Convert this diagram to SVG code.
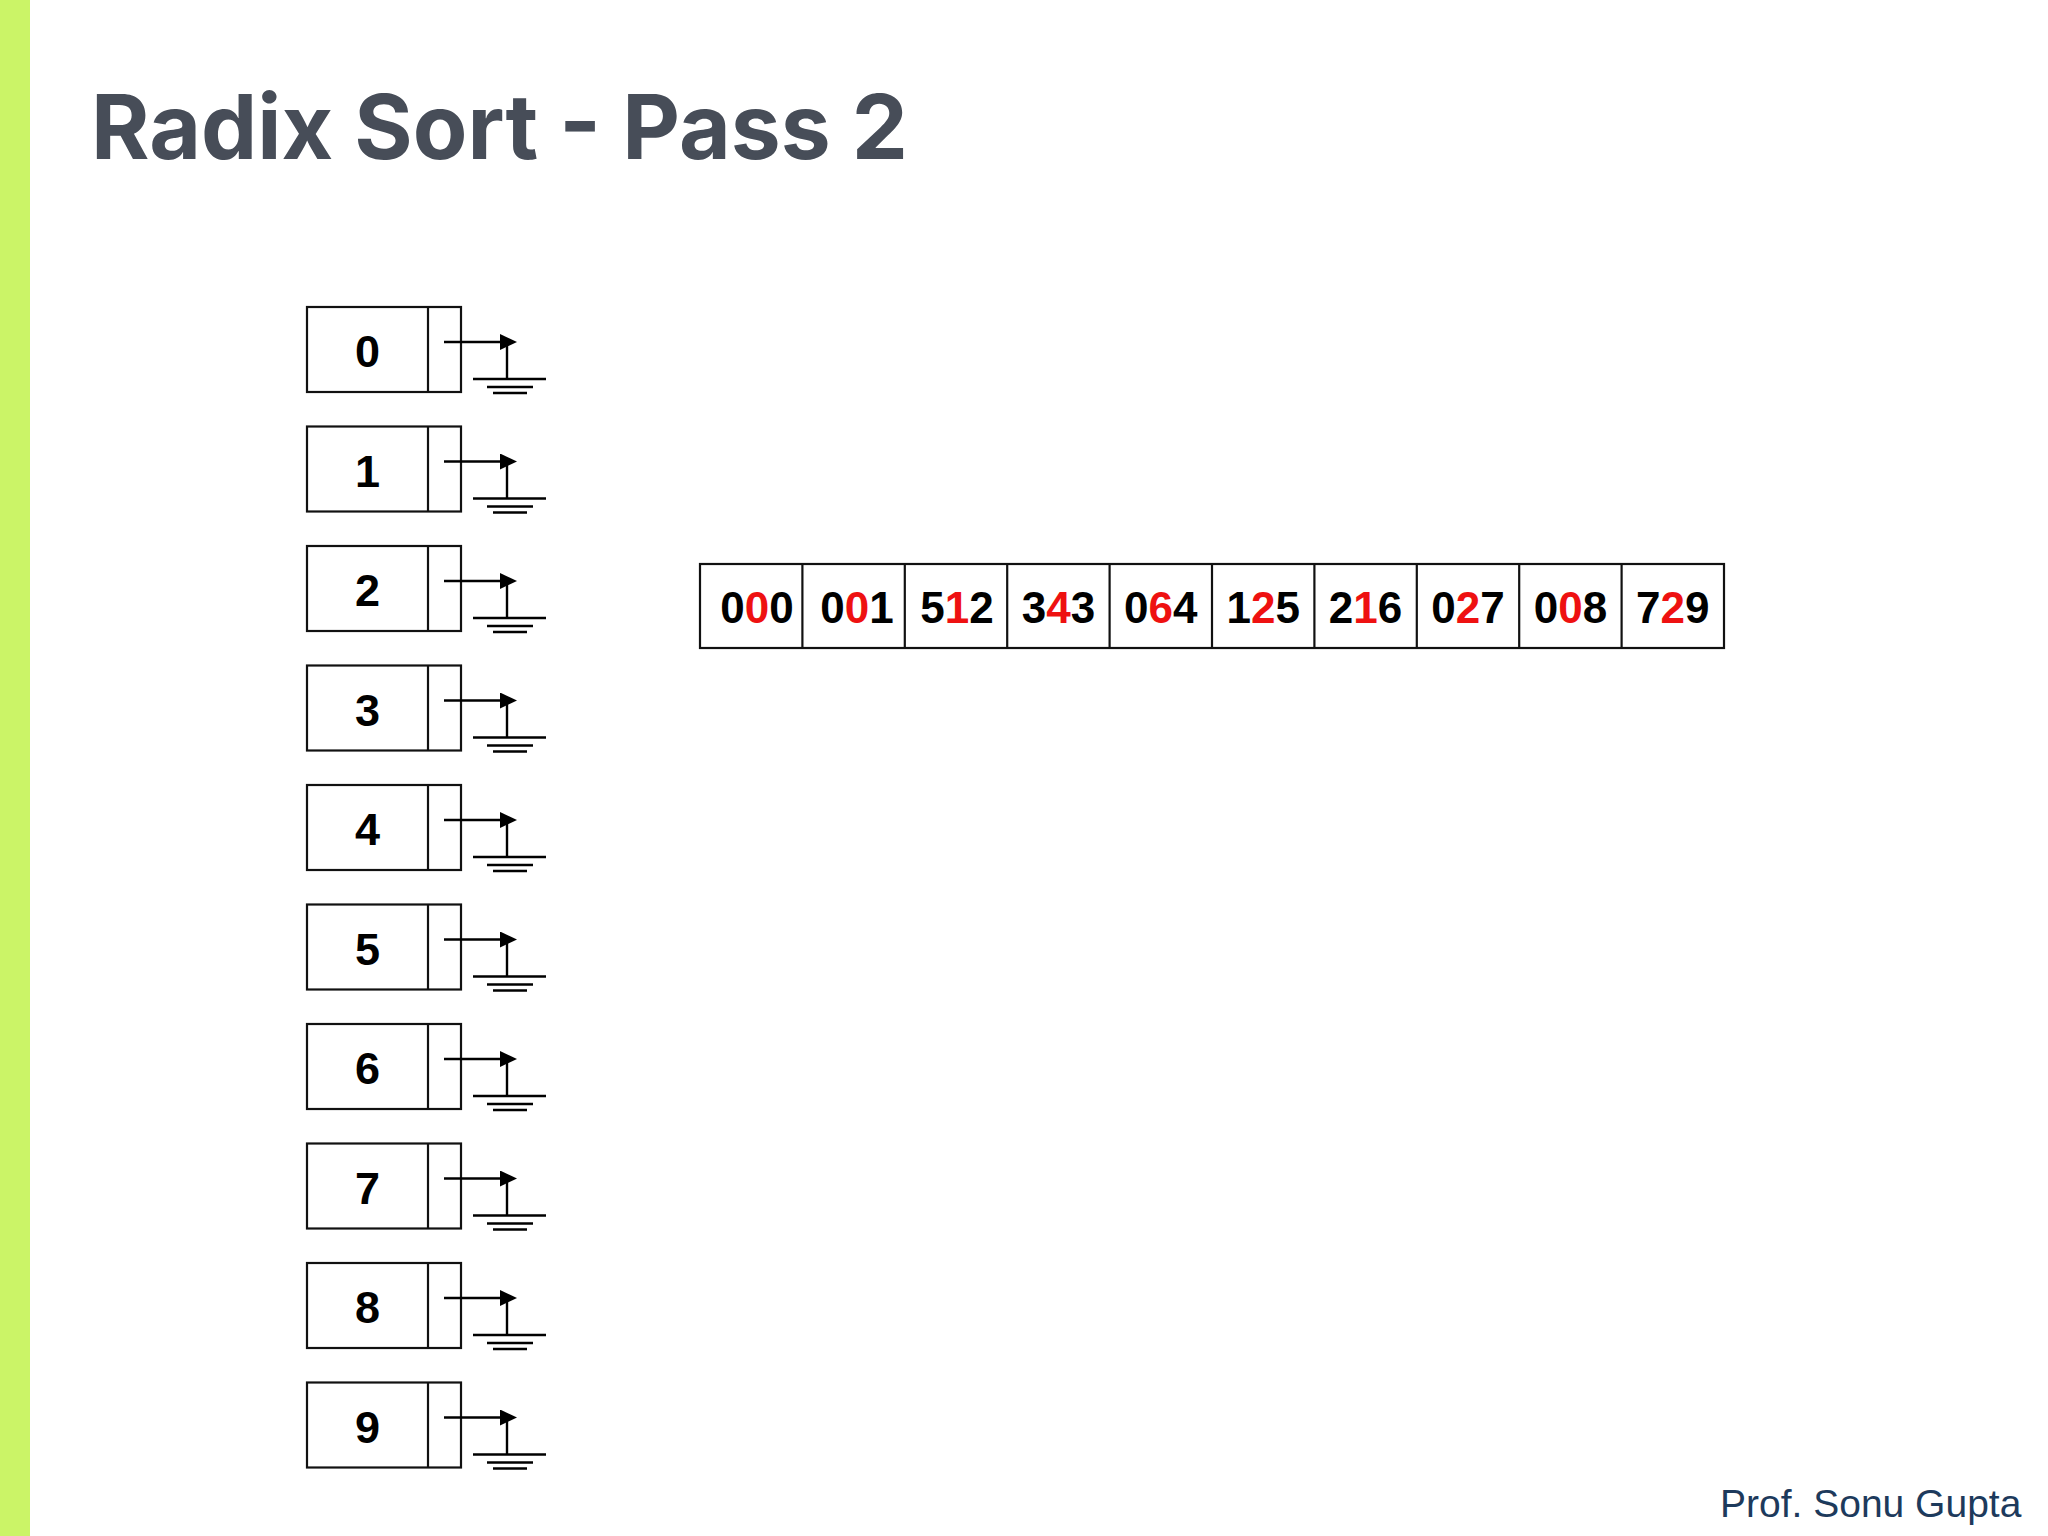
<svg xmlns="http://www.w3.org/2000/svg" width="2048" height="1536" viewBox="0 0 2048 1536">
<style>
.box{fill:#fff;stroke:#111;stroke-width:2.2}
.lbl{font-family:"Liberation Sans",Arial,sans-serif;font-weight:700;font-size:45px;fill:#000;text-anchor:middle}
.num{font-family:"Liberation Sans",Arial,sans-serif;font-weight:700;font-size:44px;fill:#000;text-anchor:middle}
.r{fill:#ee1111}
.ptr{stroke:#000;stroke-width:2.6;fill:none}
.gnd{stroke:#000;stroke-width:2.4;fill:none}
</style>
<defs>
<marker id="ah" markerUnits="userSpaceOnUse" markerWidth="18" markerHeight="18" refX="5" refY="8" orient="auto">
<path d="M0,0 L17,8 L0,16 Z" fill="#000"/>
</marker>
<g id="ground">
<line x1="0" y1="0" x2="0" y2="37" class="gnd"/>
<line x1="-34" y1="37" x2="39" y2="37" class="gnd"/>
<line x1="-20" y1="45" x2="26" y2="45" class="gnd"/>
<line x1="-14" y1="51" x2="20" y2="51" class="gnd"/>
</g>
</defs>
<rect width="2048" height="1536" fill="#fff"/>
<rect x="0" y="0" width="30" height="1536" fill="#cbf467"/>
<text x="91" y="159" font-family="Inter,'Open Sans',sans-serif" font-weight="700" font-size="90" fill="#474d58" textLength="817" lengthAdjust="spacingAndGlyphs">Radix Sort - Pass 2</text>
<text x="1720" y="1517" font-family="'Liberation Sans',Arial,sans-serif" font-size="39" fill="#1d3a5c">Prof. Sonu Gupta</text>

<g id="bucket-0"><rect class="box" x="307" y="307" width="154" height="85"/><line class="box" x1="428" y1="307" x2="428" y2="392"/><text class="lbl" x="367.5" y="367">0</text><use href="#ground" x="507" y="342"/></g>
<g id="bucket-1"><rect class="box" x="307" y="426.5" width="154" height="85"/><line class="box" x1="428" y1="426.5" x2="428" y2="511.5"/><text class="lbl" x="367.5" y="486.5">1</text><use href="#ground" x="507" y="461.5"/></g>
<g id="bucket-2"><rect class="box" x="307" y="546" width="154" height="85"/><line class="box" x1="428" y1="546" x2="428" y2="631"/><text class="lbl" x="367.5" y="606">2</text><use href="#ground" x="507" y="581"/></g>
<g id="bucket-3"><rect class="box" x="307" y="665.5" width="154" height="85"/><line class="box" x1="428" y1="665.5" x2="428" y2="750.5"/><text class="lbl" x="367.5" y="725.5">3</text><use href="#ground" x="507" y="700.5"/></g>
<g id="bucket-4"><rect class="box" x="307" y="785" width="154" height="85"/><line class="box" x1="428" y1="785" x2="428" y2="870"/><text class="lbl" x="367.5" y="845">4</text><use href="#ground" x="507" y="820"/></g>
<g id="bucket-5"><rect class="box" x="307" y="904.5" width="154" height="85"/><line class="box" x1="428" y1="904.5" x2="428" y2="989.5"/><text class="lbl" x="367.5" y="964.5">5</text><use href="#ground" x="507" y="939.5"/></g>
<g id="bucket-6"><rect class="box" x="307" y="1024" width="154" height="85"/><line class="box" x1="428" y1="1024" x2="428" y2="1109"/><text class="lbl" x="367.5" y="1084">6</text><use href="#ground" x="507" y="1059"/></g>
<g id="bucket-7"><rect class="box" x="307" y="1143.5" width="154" height="85"/><line class="box" x1="428" y1="1143.5" x2="428" y2="1228.5"/><text class="lbl" x="367.5" y="1203.5">7</text><use href="#ground" x="507" y="1178.5"/></g>
<g id="bucket-8"><rect class="box" x="307" y="1263" width="154" height="85"/><line class="box" x1="428" y1="1263" x2="428" y2="1348"/><text class="lbl" x="367.5" y="1323">8</text><use href="#ground" x="507" y="1298"/></g>
<g id="bucket-9"><rect class="box" x="307" y="1382.5" width="154" height="85"/><line class="box" x1="428" y1="1382.5" x2="428" y2="1467.5"/><text class="lbl" x="367.5" y="1442.5">9</text><use href="#ground" x="507" y="1417.5"/></g>

<g id="connectors">
<line class="ptr" x1="444" y1="342" x2="505" y2="342" marker-end="url(#ah)"/>
<line class="ptr" x1="444" y1="461.5" x2="505" y2="461.5" marker-end="url(#ah)"/>
<line class="ptr" x1="444" y1="581" x2="505" y2="581" marker-end="url(#ah)"/>
<line class="ptr" x1="444" y1="700.5" x2="505" y2="700.5" marker-end="url(#ah)"/>
<line class="ptr" x1="444" y1="820" x2="505" y2="820" marker-end="url(#ah)"/>
<line class="ptr" x1="444" y1="939.5" x2="505" y2="939.5" marker-end="url(#ah)"/>
<line class="ptr" x1="444" y1="1059" x2="505" y2="1059" marker-end="url(#ah)"/>
<line class="ptr" x1="444" y1="1178.5" x2="505" y2="1178.5" marker-end="url(#ah)"/>
<line class="ptr" x1="444" y1="1298" x2="505" y2="1298" marker-end="url(#ah)"/>
<line class="ptr" x1="444" y1="1417.5" x2="505" y2="1417.5" marker-end="url(#ah)"/>
</g>

<g id="array">
<rect class="box" x="700" y="564" width="1024" height="84"/>
<line class="box" x1="802.4" y1="564" x2="802.4" y2="648"/>
<line class="box" x1="904.8" y1="564" x2="904.8" y2="648"/>
<line class="box" x1="1007.2" y1="564" x2="1007.2" y2="648"/>
<line class="box" x1="1109.6" y1="564" x2="1109.6" y2="648"/>
<line class="box" x1="1212" y1="564" x2="1212" y2="648"/>
<line class="box" x1="1314.4" y1="564" x2="1314.4" y2="648"/>
<line class="box" x1="1416.8" y1="564" x2="1416.8" y2="648"/>
<line class="box" x1="1519.2" y1="564" x2="1519.2" y2="648"/>
<line class="box" x1="1621.6" y1="564" x2="1621.6" y2="648"/>
<text class="num" x="757" y="623">0<tspan class="r">0</tspan>0</text>
<text class="num" x="857" y="623">0<tspan class="r">0</tspan>1</text>
<text class="num" x="957" y="623">5<tspan class="r">1</tspan>2</text>
<text class="num" x="1058.4" y="623">3<tspan class="r">4</tspan>3</text>
<text class="num" x="1160.8" y="623">0<tspan class="r">6</tspan>4</text>
<text class="num" x="1263.2" y="623">1<tspan class="r">2</tspan>5</text>
<text class="num" x="1365.6" y="623">2<tspan class="r">1</tspan>6</text>
<text class="num" x="1468" y="623">0<tspan class="r">2</tspan>7</text>
<text class="num" x="1570.4" y="623">0<tspan class="r">0</tspan>8</text>
<text class="num" x="1672.8" y="623">7<tspan class="r">2</tspan>9</text>
</g>
</svg>
